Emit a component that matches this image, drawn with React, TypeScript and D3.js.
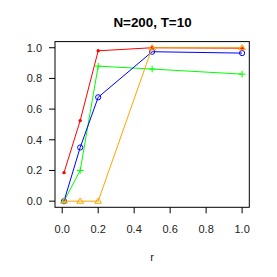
import React from "react";
import * as d3 from "d3";

// r values shared by all series
const rValues = [0.01, 0.1, 0.2, 0.5, 1.0];
const redSeries = [0.186, 0.525, 0.98, 1.0, 0.997];
const blueSeries = [0.0, 0.35, 0.677, 0.974, 0.965];
const greenSeries = [0.0, 0.2, 0.88, 0.861, 0.828];
const orangeSeries = [0.0, 0.0, 0.0, 1.0, 1.0];
const xTicks = [0, 0.2, 0.4, 0.6, 0.8, 1.0];
const yTicks = [0, 0.2, 0.4, 0.6, 0.8, 1.0];
const title = "N=200, T=10";
const xLabel = "r";

const W = 277;
const H = 277;
const plot = { left: 55, right: 249.3, top: 41.6, bottom: 207.3 };
const font = "'Liberation Sans', Arial, Helvetica, sans-serif";

type Series = { values: number[]; color: string; shape: "dot" | "circle" | "plus" | "triangle" };

const series: Series[] = [
  { values: redSeries, color: "#ff0000", shape: "dot" },
  { values: greenSeries, color: "#00ff00", shape: "plus" },
  { values: blueSeries, color: "#0000ff", shape: "circle" },
  { values: orangeSeries, color: "#ffa500", shape: "triangle" },
];

const App = () => {
  const x = d3.scaleLinear().domain([-0.04, 1.04]).range([plot.left, plot.right]);
  const y = d3.scaleLinear().domain([-0.04, 1.04]).range([plot.bottom, plot.top]);

  const line = d3
    .line<number>()
    .x((_, i) => x(rValues[i]))
    .y((d) => y(d));

  const marker = (s: Series, px: number, py: number, key: number) => {
    if (s.shape === "dot") return <circle key={key} cx={px} cy={py} r={1.7} fill={s.color} />;
    if (s.shape === "circle")
      return <circle key={key} cx={px} cy={py} r={2.6} fill="none" stroke={s.color} strokeWidth={1} />;
    if (s.shape === "plus")
      return (
        <path key={key} d={`M${px - 3.3},${py}H${px + 3.3}M${px},${py - 3.3}V${py + 3.3}`} stroke={s.color} strokeWidth={1} />
      );
    const sz = 3.2;
    return (
      <path
        key={key}
        d={`M${px},${py - sz}L${px + sz * 1.05},${py + sz * 0.65}L${px - sz * 1.05},${py + sz * 0.65}Z`}
        fill="none"
        stroke={s.color}
        strokeWidth={1}
      />
    );
  };

  return (
    <svg width={W} height={H} style={{ position: "absolute", left: 0, top: 0, background: "#fff" }}>
      <text x={152.5} y={26.5} textAnchor="middle" fontFamily={font} fontWeight="bold" fontSize={13.4}>
        {title}
      </text>
      <rect
        x={plot.left}
        y={plot.top}
        width={plot.right - plot.left}
        height={plot.bottom - plot.top}
        fill="none"
        stroke="#000"
        strokeWidth={1}
      />
      {yTicks.map((t) => (
        <g key={"y" + t}>
          <line x1={plot.left - 6} x2={plot.left} y1={y(t)} y2={y(t)} stroke="#000" />
          <text x={42} y={y(t)} dy="0.35em" textAnchor="end" fontFamily={font} fontSize={11} fill="#222">
            {t.toFixed(1)}
          </text>
        </g>
      ))}
      {xTicks.map((t) => (
        <g key={"x" + t}>
          <line x1={x(t)} x2={x(t)} y1={plot.bottom} y2={plot.bottom + 6} stroke="#000" />
          <text x={x(t)} y={229} dy="0.35em" textAnchor="middle" fontFamily={font} fontSize={11} fill="#222">
            {t.toFixed(1)}
          </text>
        </g>
      ))}
      <text x={152} y={257} dy="0.35em" textAnchor="middle" fontFamily={font} fontSize={11} fill="#222">
        {xLabel}
      </text>
      {series.map((s, si) => (
        <g key={si}>
          <path d={line(s.values) ?? ""} fill="none" stroke={s.color} strokeWidth={1} />
          {s.values.map((v, i) => marker(s, x(rValues[i]), y(v), i))}
        </g>
      ))}
    </svg>
  );
};

export default App;
